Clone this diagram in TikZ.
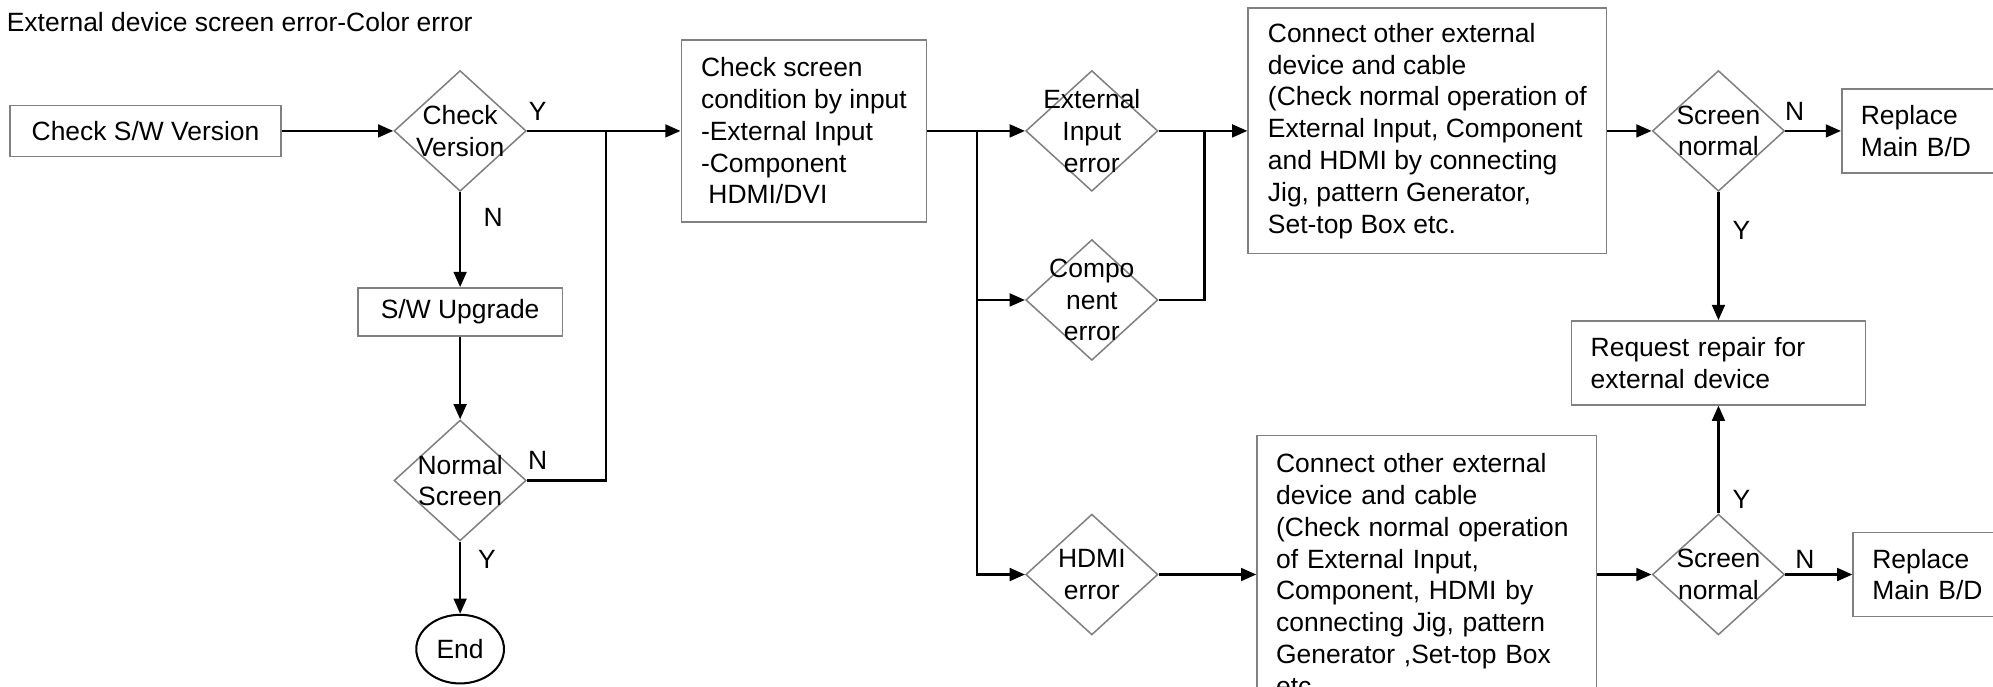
\documentclass[tikz,border=0pt]{standalone}
\usepackage{fontspec}
\setmainfont{Liberation Sans}
\usepackage{tikz}
\usetikzlibrary{arrows.meta,positioning,shapes.geometric}
\definecolor{ink}{HTML}{000000}
\definecolor{gry}{HTML}{808080}
\tikzset{
  every node/.style={font=\fontsize{10.4}{12.5}\selectfont, text=ink},
  box/.style  ={draw=gry, line width=.6pt, align=left, inner xsep=7.5pt, inner ysep=0pt},
  cbox/.style ={box, align=center, inner sep=0pt},
  dec/.style  ={diamond, draw=gry, line width=.6pt, inner sep=0pt,
                minimum width=52pt, minimum height=47.5pt},
  dtxt/.style ={align=center, inner sep=0pt},
  term/.style ={ellipse, draw=ink, line width=.8pt, inner sep=0pt,
                minimum width=34.5pt, minimum height=27pt},
  lbl/.style  ={inner sep=0pt},
  flow/.style ={->, >={Triangle[length=6pt,width=5pt]}, line width=1pt, draw=ink},
  wire/.style ={line width=1pt, draw=ink},
}
\begin{document}
\begin{tikzpicture}[x=0.5pt, y=-0.5pt]
  \useasboundingbox (0,0) rectangle (1568,540);
  \clip (0,0) rectangle (1568,540);
  \node[lbl, anchor=west] (title) at (5,17) {External device screen error-Color error};
  % --- version check column ---
  \node[cbox, minimum width=106.5pt, minimum height=20pt] (sw) at (114.5,103) {Check S/W Version};
  \node[dec, right=43.9pt of sw, label={[dtxt]center:Check\\Version}] (chkver) {};
  \node[cbox, below=37.4pt of chkver, minimum width=80.5pt, minimum height=19pt] (upg) {S/W Upgrade};
  \node[dec, below=32.4pt of upg, label={[dtxt]center:Normal\\Screen}] (normal) {};
  \node[term, below=28.4pt of normal] (end) {End};
  % --- input split ---
  \node[box, right=60.4pt of chkver, minimum width=96.5pt, minimum height=71.5pt]
       (chk) {Check screen\\condition by input\\-External Input\\-Component\\\hspace*{2.9pt}HDMI/DVI};
  \node[dec, right=38.4pt of chk, label={[dtxt]center:External\\Input\\error}] (extin) {};
  \node[dec, below=18.4pt of extin, label={[dtxt]center:Compo\\nent\\error}] (comp) {};
  \node[dec, below=59.9pt of comp, label={[dtxt]center:HDMI\\error}] (hdmi) {};
  % --- external device check ---
  \node[box, right=34.9pt of extin, minimum width=141pt, minimum height=96.5pt]
       (conn1) {Connect other external\\device and cable\\(Check normal operation of\\External Input, Component\\and HDMI by connecting\\Jig, pattern Generator,\\Set-top Box etc.};
  \node[dec, right=17.4pt of conn1, label={[dtxt]center:Screen\\normal}] (scr1) {};
  \node[box, right=21.9pt of scr1, text width=60pt, minimum height=33pt] (rep1) {Replace\\Main B/D};
  \node[box, below=50.4pt of scr1, text width=100.5pt, minimum height=33pt] (req) {Request repair for\\external device};
  \node[box, right=38.4pt of hdmi, text width=118.5pt, minimum height=109.5pt]
       (conn2) {Connect other external\\device and cable\\(Check normal operation\\of External Input,\\Component, HDMI by\\connecting Jig, pattern\\Generator ,Set-top Box\\etc.};
  \node[dec, right=21.4pt of conn2, label={[dtxt]center:Screen\\normal}] (scr2) {};
  \node[box, right=26.4pt of scr2, text width=60pt, minimum height=33pt] (rep2) {Replace\\Main B/D};
  % junctions
  \coordinate[right=31pt of chkver.east] (j1);
  \coordinate[right=19.5pt of chk.east] (j2);
  \coordinate[right=18pt of extin.east] (j3);
  % connectors
  \draw[flow] (sw) -- (chkver);
  \draw[flow] (chkver) -- (chk);
  \draw[flow] (chkver) -- (upg);
  \draw[flow] (upg) -- (normal);
  \draw[flow] (normal) -- (end);
  \draw[wire] (normal) -| (j1);
  \draw[flow] (chk) -- (extin);
  \draw[flow] (j2) |- (comp);
  \draw[flow] (j2) |- (hdmi);
  \draw[flow] (extin) -- (conn1);
  \draw[wire] (comp) -| (j3);
  \draw[flow] (hdmi) -- (conn2);
  \draw[flow] (conn1) -- (scr1);
  \draw[flow] (scr1) -- (rep1);
  \draw[flow] (scr1) -- (req);
  \draw[flow] (conn2) -- (scr2);
  \draw[flow] (scr2) -- (req);
  \draw[flow] (scr2) -- (rep2);
  % Y / N marks
  \node[lbl] (y1) at (423,88) {Y};
  \node[lbl] (n1) at (388,171) {N};
  \node[lbl] (n2) at (423,362) {N};
  \node[lbl] (y2) at (383,440) {Y};
  \node[lbl] (n3) at (1412,88) {N};
  \node[lbl] (y3) at (1370,181) {Y};
  \node[lbl] (y4) at (1370,393) {Y};
  \node[lbl] (n4) at (1420,440) {N};
\end{tikzpicture}
\end{document}
